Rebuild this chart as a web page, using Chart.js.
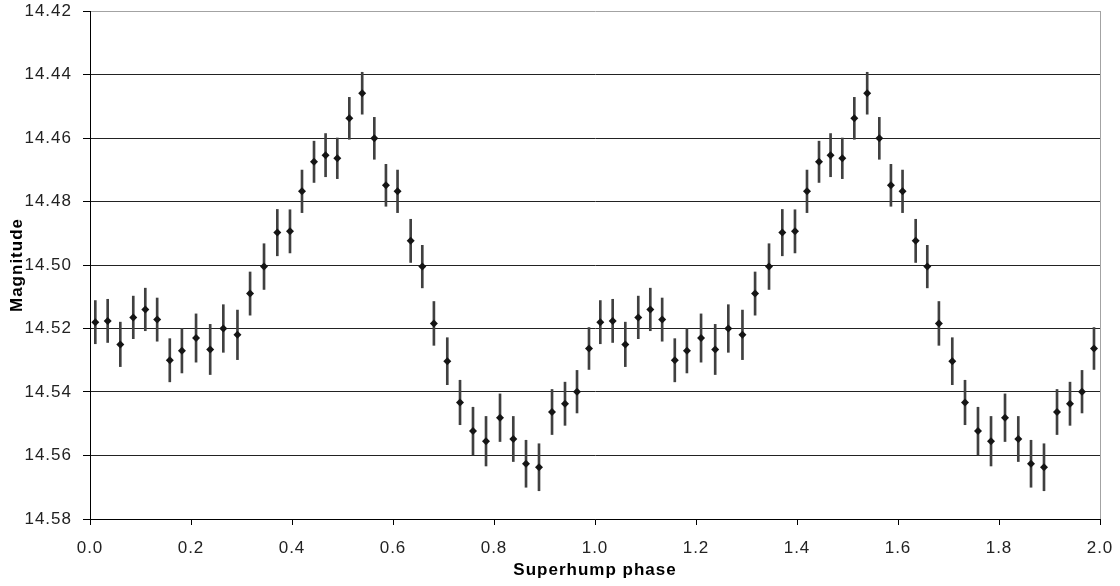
<!DOCTYPE html>
<html>
<head>
<meta charset="utf-8">
<title>Superhump profile</title>
<script src="https://cdn.jsdelivr.net/npm/chart.js@4.4.1/dist/chart.umd.min.js"></script>
<style>
  html, body { margin: 0; padding: 0; background: #ffffff; }
  #wrap { width: 1120px; height: 586px; }
</style>
</head>
<body>
<div id="wrap"><canvas id="chart" width="1120" height="586"></canvas></div>
<script>
// Phase-binned light curve: mean phase, mean magnitude and error of each bin
const phases = [
  0.0105, 0.0350, 0.0600, 0.0857, 0.1095, 0.1330, 0.1580, 0.1820, 0.2100, 0.2380,
  0.2640, 0.2920, 0.3170, 0.3446, 0.3709, 0.3960, 0.4198, 0.4436, 0.4665, 0.4897,
  0.5135, 0.5390, 0.5630, 0.5860, 0.6090, 0.6350, 0.6580, 0.6810, 0.7075, 0.7327,
  0.7584, 0.7842, 0.8119, 0.8382, 0.8634, 0.8891, 0.9149, 0.9406, 0.9644, 0.9881
];
const magnitudes = [
  14.5180, 14.5176, 14.5250, 14.5165, 14.5140, 14.5172, 14.5300, 14.5270, 14.5230, 14.5266,
  14.5200, 14.5220, 14.5090, 14.5005, 14.4898, 14.4894, 14.4768, 14.4675, 14.4654, 14.4664,
  14.4538, 14.4459, 14.4601, 14.4749, 14.4768, 14.4924, 14.5005, 14.5184, 14.5303, 14.5433,
  14.5523, 14.5555, 14.5481, 14.5548, 14.5626, 14.5637, 14.5463, 14.5437, 14.5399, 14.5263
];
const errors = [
  0.0068, 0.0068, 0.0070, 0.0067, 0.0067, 0.0068, 0.0068, 0.0070, 0.0076, 0.0079,
  0.0075, 0.0078, 0.0068, 0.0072, 0.0073, 0.0068, 0.0067, 0.0065, 0.0068, 0.0064,
  0.0066, 0.0066, 0.0066, 0.0066, 0.0067, 0.0068, 0.0067, 0.0069, 0.0074, 0.0070,
  0.0075, 0.0078, 0.0075, 0.0071, 0.0074, 0.0074, 0.0071, 0.0068, 0.0067, 0.0066
];
// The profile is shown over two consecutive cycles
const cycles = [0, 1];

const xTickValues = [0.0, 0.2, 0.4, 0.6, 0.8, 1.0, 1.2, 1.4, 1.6, 1.8, 2.0];
const yTickValues = [14.42, 14.44, 14.46, 14.48, 14.50, 14.52, 14.54, 14.56, 14.58];

const xTitle = 'Superhump phase';
const yTitle = 'Magnitude';

const points = [];
const errorBars = [];
cycles.forEach(c => {
  phases.forEach((p, i) => {
    points.push({ x: p + c, y: magnitudes[i] });
    errorBars.push({ x: p + c, y: [magnitudes[i] - errors[i], magnitudes[i] + errors[i]] });
  });
});

const FONT = "'Liberation Sans', Arial, Helvetica, sans-serif";
Chart.defaults.font.family = FONT;

// Spaced-out lettering for every text on the canvas
const letterSpacingPlugin = {
  id: 'letterSpacing',
  beforeDraw(chart) { chart.ctx.letterSpacing = '1px'; }
};

new Chart(document.getElementById('chart'), {
  type: 'scatter',
  data: {
    datasets: [
      {
        type: 'scatter',
        label: 'Magnitude',
        data: points,
        order: 0,
        pointStyle: 'rectRot',
        pointRadius: 4,
        pointHoverRadius: 4,
        pointBackgroundColor: '#151515',
        pointBorderWidth: 0,
        showLine: false
      },
      {
        type: 'bar',
        label: 'Error',
        data: errorBars,
        order: 1,
        backgroundColor: '#404040',
        borderWidth: 0,
        barThickness: 2,
        grouped: false
      }
    ]
  },
  options: {
    responsive: false,
    animation: false,
    devicePixelRatio: 1,
    layout: { padding: { top: 11, right: 20, bottom: 0, left: 0 } },
    plugins: {
      legend: { display: false },
      tooltip: { enabled: false }
    },
    scales: {
      x: {
        type: 'linear',
        min: 0,
        max: 2,
        offset: false,
        afterBuildTicks: s => { s.ticks = xTickValues.map(v => ({ value: v })); },
        afterFit: s => { s.height = 67; s.paddingLeft = 0; s.paddingRight = 0; },
        ticks: {
          callback: v => Number(v).toFixed(1),
          font: { size: 17 },
          color: '#222',
          padding: 13,
          maxRotation: 0,
          autoSkip: false
        },
        grid: {
          offset: false,
          color: c => (c.tick && c.tick.value === 2) ? '#a3a3a3' : 'rgba(0,0,0,0)',
          tickColor: '#000',
          tickLength: 6,
          lineWidth: 1
        },
        border: { color: '#000', width: 1 },
        title: {
          display: true,
          text: xTitle,
          color: '#000',
          font: { size: 17, weight: 'bold' },
          padding: { top: 0, bottom: 5 }
        }
      },
      y: {
        type: 'linear',
        reverse: true,
        min: 14.42,
        max: 14.58,
        afterBuildTicks: s => { s.ticks = yTickValues.map(v => ({ value: v })); },
        afterFit: s => { s.width = 90; s.paddingTop = 0; s.paddingBottom = 0; },
        ticks: {
          callback: v => Number(v).toFixed(2),
          font: { size: 17 },
          color: '#222',
          padding: 11
        },
        grid: {
          offset: false,
          color: c => (c.tick && c.tick.value === 14.42) ? '#a3a3a3' : '#222',
          tickColor: '#000',
          tickLength: 7,
          lineWidth: 1
        },
        border: { color: '#000', width: 1 },
        title: {
          display: true,
          text: yTitle,
          color: '#000',
          font: { size: 17, weight: 'bold' },
          padding: { top: 7, bottom: 0 }
        }
      }
    }
  },
  plugins: [letterSpacingPlugin]
});
</script>
</body>
</html>
